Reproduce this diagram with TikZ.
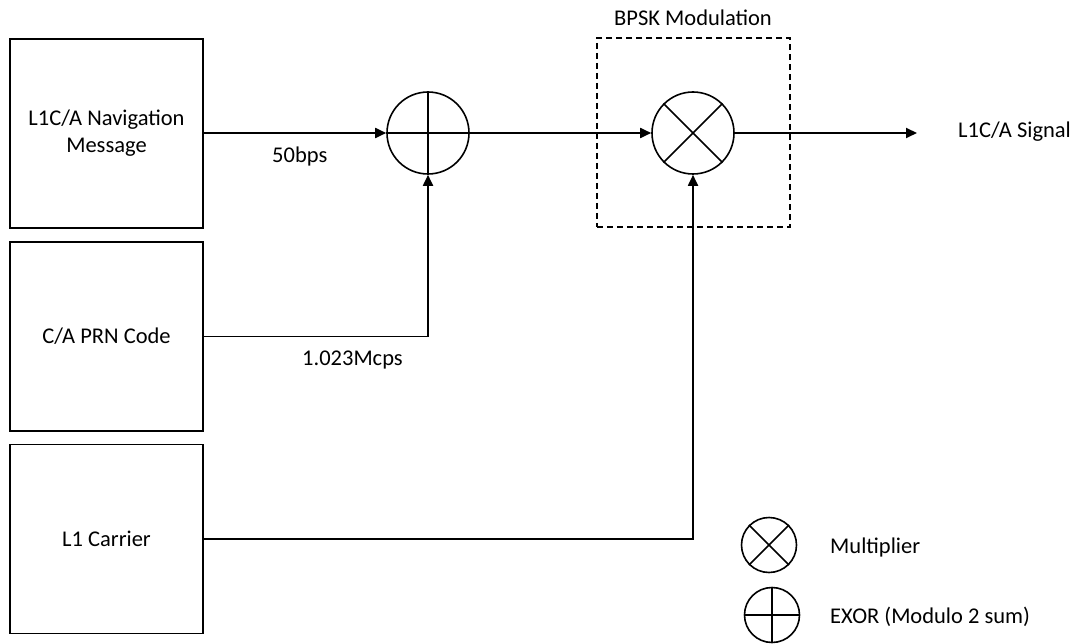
\documentclass[tikz,border=0pt]{standalone}
\usepackage{fontspec}
\setmainfont{Carlito}
\usetikzlibrary{arrows.meta}
\begin{document}
\begin{tikzpicture}[x=1pt,y=-1pt,
  blk/.style={draw, line width=1.7pt, minimum width=193pt, minimum height=189pt, inner sep=0pt, font=\fontsize{22.5}{27}\selectfont, align=center},
  circ/.style={draw, circle, line width=1.6pt, inner sep=0pt},
  conn/.style={line width=1.8pt},
  arr/.style={conn, -{Triangle[length=11pt,width=10pt]}},
  lbl/.style={font=\fontsize{22.5}{27}\selectfont, inner sep=0pt}]
\useasboundingbox (0,0) rectangle (1078,644);
\node[blk] (nav) at (106.5,133.5) {L1C/A Navigation\\Message};
\node[blk] (prn) at (106.5,336.5) {C/A PRN Code};
\node[blk] (car) at (106.5,539) {L1 Carrier};
\node[circ, minimum size=82pt] (xor) at (428,133) {};
\draw[line width=1.6pt] (xor.north) -- (xor.south) (xor.west) -- (xor.east);
\node[circ, minimum size=82pt] (mul) at (693,133) {};
\draw[line width=1.6pt] (mul.north east) -- (mul.south west) (mul.north west) -- (mul.south east);
\node[draw, line width=1.4pt, minimum width=193pt, minimum height=189pt, inner sep=0pt, dash pattern=on 6pt off 4pt] (bpsk) at (693.5,132.5) {};
\node[lbl, anchor=base] (bpsklbl) at (693,26) {BPSK Modulation};
\coordinate (outend) at (917,133);
\node[lbl, anchor=base west] (sig) at (958,138) {L1C/A Signal};
\draw[arr] (nav.east |- xor.west) -- (xor.west);
\node[lbl, anchor=base west] (r1) at (272,163) {50bps};
\draw[arr] (prn.east) -| (xor.south);
\node[lbl, anchor=base west] (r2) at (302,365) {1.023Mcps};
\draw[arr] (xor.east) -- (mul.west);
\draw[arr] (car.east) -| (mul.south);
\draw[arr] (mul.east) -- (outend);
% legend
\node[circ, minimum size=55pt] (lmul) at (769,545) {};
\draw[line width=1.6pt] (lmul.north east) -- (lmul.south west) (lmul.north west) -- (lmul.south east);
\node[lbl, anchor=base west] (lmult) at (830,553) {Multiplier};
\node[circ, minimum size=55pt] (lxor) at (772,615) {};
\draw[line width=1.6pt] (lxor.north) -- (lxor.south) (lxor.west) -- (lxor.east);
\node[lbl, anchor=base west] (lxort) at (830,623) {EXOR (Modulo 2 sum)};
\end{tikzpicture}
\end{document}
